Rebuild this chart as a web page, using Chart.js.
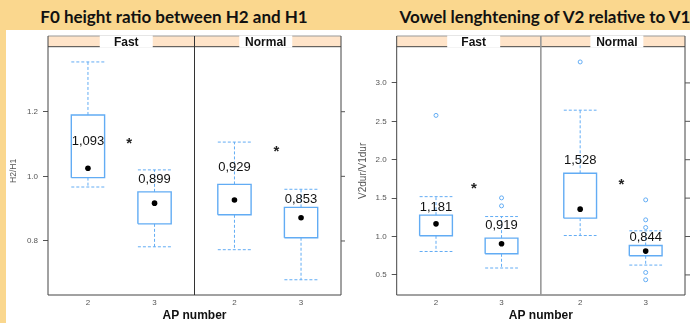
<!DOCTYPE html>
<html>
<head>
<meta charset="utf-8">
<script src="https://cdn.jsdelivr.net/npm/chart.js@4.4.1/dist/chart.umd.min.js"></script>
<style>
  body { margin:0; width:690px; height:323px; overflow:hidden; background:#fad78e; position:relative; font-family:"Liberation Sans", Arial, sans-serif; }
  .title { position:absolute; top:7px; width:320px; text-align:center; font-family:Lato, sans-serif; font-weight:700; font-size:17px; line-height:20px; color:#111; white-space:nowrap; }
  .sheet { position:absolute; left:6px; top:30px; width:684px; height:293px; background:#fff; }
  canvas { position:absolute; top:30px; }
</style>
</head>
<body>
<div class="title" style="left:14px">F0 height ratio between H2 and H1</div>
<div class="title" style="left:385px">Vowel lenghtening of V2 relative to V1</div>
<div class="sheet"></div>
<canvas id="f0-chart" width="339" height="293" style="left:6px;width:339px;height:293px"></canvas>
<canvas id="dur-chart" width="345" height="293" style="left:345px;width:345px;height:293px"></canvas>
<script>
// Boxes in order: Fast AP2, Fast AP3, Normal AP2, Normal AP3
const facets = ['Fast', 'Normal'];
const apLabels = ['2', '3', '2', '3'];

// F0 height ratio H2/H1
const f0Low = [0.967, 0.782, 0.773, 0.680];
const f0Q1 = [0.996, 0.853, 0.881, 0.810];
const f0Median = [1.025, 0.917, 0.927, 0.872];
const f0Q3 = [1.190, 0.952, 0.975, 0.904];
const f0High = [1.354, 1.020, 1.106, 0.960];
const f0Means = [1.093, 0.899, 0.929, 0.853];
const f0Outliers = [[], [], [], []];
const f0Ticks = [0.8, 1.0, 1.2];

// Vowel duration ratio V2/V1
const durLow = [0.805, 0.590, 1.013, 0.628];
const durQ1 = [1.009, 0.775, 1.239, 0.749];
const durMedian = [1.165, 0.905, 1.356, 0.810];
const durQ3 = [1.278, 0.979, 1.823, 0.883];
const durHigh = [1.519, 1.260, 2.645, 1.074];
const durMeans = [1.181, 0.919, 1.528, 0.844];
const durOutliers = [[2.577], [1.503, 1.399], [3.273], [1.477, 1.217, 1.117, 0.532, 0.437]];
const durTicks = [0.5, 1.0, 1.5, 2.0, 2.5, 3.0];

const BLUE = '#62acf4';
const xPos = [1, 2, 3.2, 4.2];
const HW = 0.25;

function seg(pts, dashed) {
  return {
    data: pts.map(([x, y]) => ({ x, y })),
    showLine: true, pointRadius: 0, fill: false, order: 2,
    borderColor: BLUE, borderWidth: dashed ? 1 : 1.4, borderDash: dashed ? [3, 2] : []
  };
}

function makePanel(id, p) {
  const all = p.low.concat(p.high, ...p.outliers);
  const lo = Math.min(...all), hi = Math.max(...all);
  const ext = (hi - lo) * 0.07;

  const datasets = [{
    data: xPos.map((x, i) => ({ x, y: p.median[i] })),
    pointRadius: 2.8, pointBackgroundColor: '#000', pointBorderWidth: 0, order: 0
  }, {
    data: p.outliers.flatMap((o, i) => o.map(v => ({ x: xPos[i], y: v }))),
    pointRadius: 2, pointBackgroundColor: '#fff', pointBorderColor: BLUE, pointBorderWidth: 1, order: 1
  }];
  xPos.forEach((x, i) => {
    datasets.push(seg([[x - HW, p.q1[i]], [x + HW, p.q1[i]], [x + HW, p.q3[i]], [x - HW, p.q3[i]], [x - HW, p.q1[i]]], false));
    datasets.push(seg([[x, p.q3[i]], [x, p.high[i]]], true));
    datasets.push(seg([[x - HW, p.high[i]], [x + HW, p.high[i]]], true));
    datasets.push(seg([[x, p.q1[i]], [x, p.low[i]]], true));
    datasets.push(seg([[x - HW, p.low[i]], [x + HW, p.low[i]]], true));
  });

  const panelPlugin = {
    id: 'panel',
    afterDraw(chart) {
      const { ctx, chartArea: a, scales: { x, y } } = chart;
      const stripTop = a.top - 10.7;
      const mid = x.getPixelForValue(2.6);
      ctx.save();
      ctx.fillStyle = '#ffe4c9';
      ctx.fillRect(a.left, stripTop, a.right - a.left, a.top - stripTop);
      ctx.lineWidth = 1;
      ctx.strokeStyle = '#999';
      ctx.beginPath(); ctx.moveTo(a.left, stripTop); ctx.lineTo(a.right, stripTop); ctx.stroke();
      ctx.strokeStyle = '#444';
      ctx.beginPath();
      ctx.moveTo(a.left, a.top); ctx.lineTo(a.right, a.top);
      ctx.moveTo(a.left, stripTop); ctx.lineTo(a.left, a.bottom); ctx.lineTo(a.right, a.bottom); ctx.lineTo(a.right, stripTop);
      ctx.stroke();
      ctx.strokeStyle = p.divider;
      ctx.lineWidth = p.dividerWidth;
      ctx.beginPath(); ctx.moveTo(mid, stripTop); ctx.lineTo(mid, a.bottom); ctx.stroke();
      // right side tick marks
      ctx.strokeStyle = '#555'; ctx.lineWidth = 1;
      ctx.beginPath();
      p.ticks.forEach(t => { const py = y.getPixelForValue(t); ctx.moveTo(a.right, py); ctx.lineTo(a.right + 5, py); });
      ctx.stroke();
      // strip labels
      ctx.font = 'bold 12px "Liberation Sans"';
      ctx.textAlign = 'center'; ctx.textBaseline = 'middle';
      facets.forEach((f, k) => {
        const cx = x.getPixelForValue(p.stripAt[k]);
        ctx.fillStyle = '#fff';
        ctx.fillRect(cx - 26.5, stripTop - 0.5, 53, a.top - stripTop + 1.5);
        ctx.fillStyle = '#111';
        ctx.fillText(f, cx, stripTop + 6.5);
      });
      // mean labels
      ctx.font = '13px "Liberation Sans"';
      ctx.fillStyle = '#111';
      p.means.forEach((m, i) => {
        ctx.fillText(m.toFixed(3).replace('.', ','), x.getPixelForValue(xPos[i]), y.getPixelForValue(p.labelAt[i]));
      });
      // significance stars
      ctx.font = 'bold 15px "Liberation Sans"';
      ctx.fillStyle = '#222';
      p.starX.forEach((sx, k) => {
        ctx.fillText('*', x.getPixelForValue(sx), y.getPixelForValue(p.starY[k]) + 3.5);
      });
      ctx.restore();
    }
  };

  return new Chart(document.getElementById(id), {
    type: 'scatter',
    data: { datasets },
    plugins: [panelPlugin],
    options: {
      responsive: false, animation: false, events: [],
      layout: { padding: { top: 16.7, right: p.padRight, left: 0, bottom: 0 } },
      plugins: { legend: { display: false }, tooltip: { enabled: false } },
      scales: {
        x: {
          type: 'linear', min: 0.4, max: 4.8,
          afterBuildTicks: s => { s.ticks = xPos.map(v => ({ value: v })); },
          afterFit: s => { s.height = 28; },
          ticks: { callback: (v, i) => apLabels[i], font: { size: 8, family: '"Liberation Sans"' }, color: '#555', padding: 3, autoSkip: false, maxRotation: 0 },
          grid: { display: false, drawTicks: false },
          border: { display: false },
          title: { display: true, text: 'AP number', font: { size: 12, weight: 'bold', family: '"Liberation Sans"' }, color: '#111', padding: 0 }
        },
        y: {
          min: lo - ext, max: hi + ext,
          afterBuildTicks: s => { s.ticks = p.ticks.map(v => ({ value: v })); },
          afterFit: s => { s.width = p.axisWidth; },
          ticks: { callback: v => v.toFixed(1), font: { size: 8, family: '"Liberation Sans"' }, color: '#555', padding: 5 },
          grid: { drawOnChartArea: false, drawTicks: true, tickLength: 5, color: '#555' },
          border: { display: false },
          title: { display: true, text: p.yTitle, font: { size: p.yTitleSize, family: '"Liberation Sans"' }, color: '#555', padding: { top: p.yTitlePad, bottom: 0 } }
        }
      }
    }
  });
}

makePanel('f0-chart', {
  low: f0Low, q1: f0Q1, median: f0Median, q3: f0Q3, high: f0High, means: f0Means, outliers: f0Outliers,
  ticks: f0Ticks, yTitle: 'H2/H1', yTitleSize: 8.5, yTitlePad: 3, axisWidth: 42, padRight: 4,
  labelAt: [1.108, 0.992, 1.029, 0.930], starX: [1.62, 3.83], starY: [1.111, 1.088],
  stripAt: [1.575, 3.67], divider: '#333', dividerWidth: 1
});

makePanel('dur-chart', {
  low: durLow, q1: durQ1, median: durMedian, q3: durQ3, high: durHigh, means: durMeans, outliers: durOutliers,
  ticks: durTicks, yTitle: 'V2dur/V1dur', yTitleSize: 10, yTitlePad: 12, axisWidth: 51.7, padRight: 1.5,
  labelAt: [1.377, 1.143, 1.987, 0.992], starX: [1.58, 3.83], starY: [1.668, 1.723],
  stripAt: [1.575, 3.76], divider: '#999', dividerWidth: 1.6
});
</script>
</body>
</html>
